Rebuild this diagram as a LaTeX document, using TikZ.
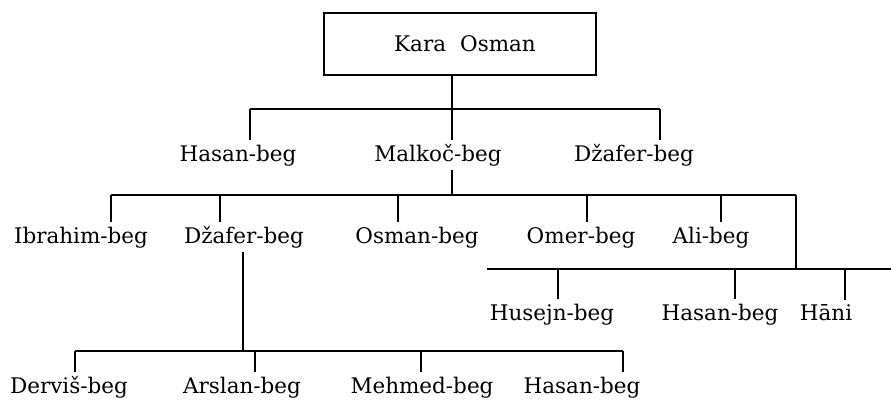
\documentclass[tikz,border=0pt]{standalone}
\usepackage{fontspec}
\setmainfont{DejaVu Serif}
\begin{document}
\begin{tikzpicture}[x=1pt,y=-1pt,
  person/.style={anchor=base,inner xsep=0pt,inner ysep=4pt,font=\fontsize{21.5}{24}\selectfont},
  topbox/.style={draw,line width=1.1pt,minimum width=272pt,minimum height=62pt,inner sep=0pt,font=\fontsize{21.5}{24}\selectfont},
  link/.style={line width=1.1pt}]
\useasboundingbox (0,0) rectangle (891,399);
% root
\node[topbox] (kara) at (460,44) {\hspace{10pt}Kara\hspace{14pt}Osman};
% generation 1
\node[person] (hasanA) at (238,161) {Hasan-beg};
\node[person] (malkoc) at (438,161) {Malkoč-beg};
\node[person] (dzaferA) at (634,161) {Džafer-beg};
% generation 2
\node[person] (ibrahim) at (81,243) {Ibrahim-beg};
\node[person] (dzaferB) at (244,243) {Džafer-beg};
\node[person] (osman) at (417,243) {Osman-beg};
\node[person] (omer) at (581,243) {Omer-beg};
\node[person] (ali) at (711,243) {Ali-beg};
% generation 3 (right)
\node[person] (husejn) at (552,320) {Husejn-beg};
\node[person] (hasanC) at (720,320) {Hasan-beg};
\node[person] (hani) at (826,320) {Hāni};
% generation 3 (left)
\node[person] (dervis) at (69,393) {Derviš-beg};
\node[person] (arslan) at (242,393) {Arslan-beg};
\node[person] (mehmed) at (422,393) {Mehmed-beg};
\node[person] (hasanD) at (582,393) {Hasan-beg};
% bar coordinates
\coordinate (j0) at (452,109);
\coordinate (b1l) at (250,109);
\coordinate (b1r) at (660,109);
\coordinate (j1) at (452,195);
\coordinate (b2l) at (111,195);
\coordinate (b2r) at (796,195);
\coordinate (t2b) at (220,195);
\coordinate (t2c) at (398,195);
\coordinate (t2d) at (587,195);
\coordinate (t2e) at (721,195);
\coordinate (b3l) at (487,269);
\coordinate (b3r) at (891,269);
\coordinate (t3a) at (558,269);
\coordinate (t3b) at (735,269);
\coordinate (t3c) at (845,269);
\coordinate (j3) at (243,351);
\coordinate (b4l) at (75,351);
\coordinate (b4r) at (623,351);
\coordinate (t4b) at (255,351);
\coordinate (t4c) at (421,351);
% level 1
\draw[link] (kara.south -| j0) -- (j0);
\draw[link] (b1l) -- (b1r);
\draw[link] (b1l) -- (b1l |- hasanA.north);
\draw[link] (j0) -- (j0 |- malkoc.north);
\draw[link] (b1r) -- (b1r |- dzaferA.north);
% level 2
\draw[link] (j1 |- malkoc.south) -- (j1);
\draw[link] (b2l) -- (b2r);
\draw[link] (b2l) -- (b2l |- ibrahim.north);
\draw[link] (t2b) -- (t2b |- dzaferB.north);
\draw[link] (t2c) -- (t2c |- osman.north);
\draw[link] (t2d) -- (t2d |- omer.north);
\draw[link] (t2e) -- (t2e |- ali.north);
\draw[link] (b2r) -- (b2r |- b3l);
% level 3 right
\draw[link] (b3l) -- (b3r);
\draw[link] (t3a) -- (t3a |- husejn.north);
\draw[link] (t3b) -- (t3b |- hasanC.north);
\draw[link] (t3c) -- (t3c |- hani.north);
% level 3 left
\draw[link] (j3 |- dzaferB.south) -- (j3);
\draw[link] (b4l) -- (b4r);
\draw[link] (b4l) -- (b4l |- dervis.north);
\draw[link] (t4b) -- (t4b |- arslan.north);
\draw[link] (t4c) -- (t4c |- mehmed.north);
\draw[link] (b4r) -- (b4r |- hasanD.north);
\end{tikzpicture}
\end{document}
